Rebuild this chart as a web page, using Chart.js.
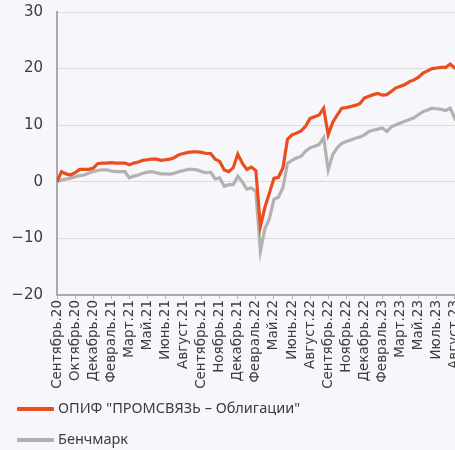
<!DOCTYPE html>
<html>
<head>
<meta charset="utf-8">
<script src="https://cdn.jsdelivr.net/npm/chart.js@4"></script>
<style>
  html, body { margin: 0; padding: 0; background: #f6f6fb; }
  #wrap { position: relative; width: 455px; height: 450px; overflow: hidden; background: #f6f6fb; }
  #box { position: absolute; left: 0; top: 0; width: 490px; height: 400px; }
  .leg { position: absolute; left: 17px; font: 14.5px "Noto Sans", sans-serif; color: #3c3c3c; white-space: nowrap; }
  .leg i { display: inline-block; width: 37px; height: 4px; vertical-align: middle; margin-right: 4px; border-radius: 1px; }
</style>
</head>
<body>
<div id="wrap">
  <div id="box"><canvas id="c"></canvas></div>
  <div class="leg" style="top:397px"><i style="background:#ea4e1f"></i>ОПИФ "ПРОМСВЯЗЬ – Облигации"</div>
  <div class="leg" style="top:428px"><i style="background:#b4b1b1"></i>Бенчмарк</div>
</div>
<script>
// подписи оси X (одна подпись на каждые 4 точки)
const monthLabels = [
  "Сентябрь.20", "Октябрь.20", "Декабрь.20", "Февраль.21", "Март.21", "Май.21",
  "Июнь.21", "Август.21", "Сентябрь.21", "Ноябрь.21", "Декабрь.21", "Февраль.22",
  "Май.22", "Июнь.22", "Август.22", "Сентябрь.22", "Ноябрь.22", "Декабрь.22",
  "Февраль.23", "Март.23", "Май.23", "Июль.23", "Август.23"
];
const pointsPerLabel = 4;

// доходность, %
const fund = [
  0.0, 1.8, 1.4, 1.2, 1.6, 2.2, 2.2, 2.2, 2.4, 3.2,
  3.3, 3.3, 3.4, 3.3, 3.3, 3.3, 3.0, 3.3, 3.5, 3.8,
  3.9, 4.0, 4.0, 3.8, 3.9, 4.0, 4.3, 4.8, 5.0, 5.2,
  5.3, 5.3, 5.2, 5.0, 5.0, 4.0, 3.6, 2.1, 1.8, 2.5,
  4.9, 3.3, 2.2, 2.6, 2.0, -7.9, -4.5, -2.0, 0.6, 0.8,
  2.5, 7.5, 8.3, 8.6, 9.0, 9.8, 11.2, 11.5, 11.8, 13.0,
  8.3, 10.5, 11.8, 13.0, 13.1, 13.3, 13.5, 13.8, 14.8, 15.1,
  15.4, 15.6, 15.3, 15.4, 16.0, 16.6, 16.9, 17.2, 17.7, 18.0,
  18.5, 19.2, 19.6, 20.0, 20.1, 20.2, 20.2, 20.8, 20.1, 20.3
];
const bench = [
  0.0, 0.3, 0.5, 0.65, 0.9, 1.1, 1.2, 1.5, 1.8, 2.0,
  2.1, 2.1, 1.9, 1.8, 1.8, 1.8, 0.7, 1.0, 1.2, 1.5,
  1.7, 1.8, 1.6, 1.4, 1.4, 1.35, 1.5, 1.8, 2.0, 2.2,
  2.2, 2.1, 1.8, 1.6, 1.7, 0.5, 0.7, -0.8, -0.5, -0.5,
  1.0, 0.0, -1.3, -1.1, -1.7, -12.3, -8.3, -6.5, -3.1, -2.7,
  -1.0, 3.3, 3.8, 4.2, 4.5, 5.4, 6.0, 6.3, 6.6, 7.8,
  2.1, 4.8, 6.0, 6.8, 7.1, 7.4, 7.7, 7.9, 8.3, 8.9,
  9.1, 9.3, 9.5, 8.9, 9.7, 10.1, 10.4, 10.7, 11.0, 11.3,
  11.9, 12.4, 12.7, 13.0, 12.9, 12.8, 12.6, 13.0, 11.2, 12.1
];

const toXY = arr => arr.map((v, i) => ({ x: i, y: v }));
const family = '"DejaVu Sans", sans-serif';

new Chart(document.getElementById("c"), {
  type: "line",
  data: {
    datasets: [
      { label: 'ОПИФ "ПРОМСВЯЗЬ – Облигации"', data: toXY(fund), borderColor: "#ea4e1f",
        borderWidth: 3.2, pointRadius: 0, tension: 0, order: 1 },
      { label: "Бенчмарк", data: toXY(bench), borderColor: "#b4b1b1",
        borderWidth: 3.2, pointRadius: 0, tension: 0, order: 2 }
    ]
  },
  options: {
    responsive: true,
    maintainAspectRatio: false,
    animation: false,
    layout: { padding: { top: 12, left: 0, right: 0, bottom: 0 } },
    plugins: { legend: { display: false }, tooltip: { enabled: false } },
    scales: {
      x: {
        type: "linear",
        min: 0,
        max: 92,
        afterFit: s => { s.height = 105; },
        ticks: {
          stepSize: pointsPerLabel,
          autoSkip: false,
          minRotation: 90,
          maxRotation: 90,
          padding: 1,
          color: "#3c3c3c",
          font: { family: family, size: 13.5 },
          callback: v => monthLabels[v / pointsPerLabel] || ""
        },
        grid: { drawOnChartArea: false, drawTicks: true, tickLength: 4, color: "#b8b8b8" },
        border: { color: "#aaaaaa", width: 2 }
      },
      y: {
        min: -20,
        max: 30,
        afterFit: s => { s.width = 57; s.paddingTop = 0; s.paddingBottom = 0; },
        ticks: {
          stepSize: 10,
          padding: 14,
          color: "#3c3c3c",
          font: { family: family, size: 15 },
          callback: v => (v < 0 ? "−" + Math.abs(v) : String(v))
        },
        grid: { drawTicks: false, color: "#dcdcdc", lineWidth: 1 },
        border: { color: "#aaaaaa", width: 2 }
      }
    }
  }
});
</script>
</body>
</html>
